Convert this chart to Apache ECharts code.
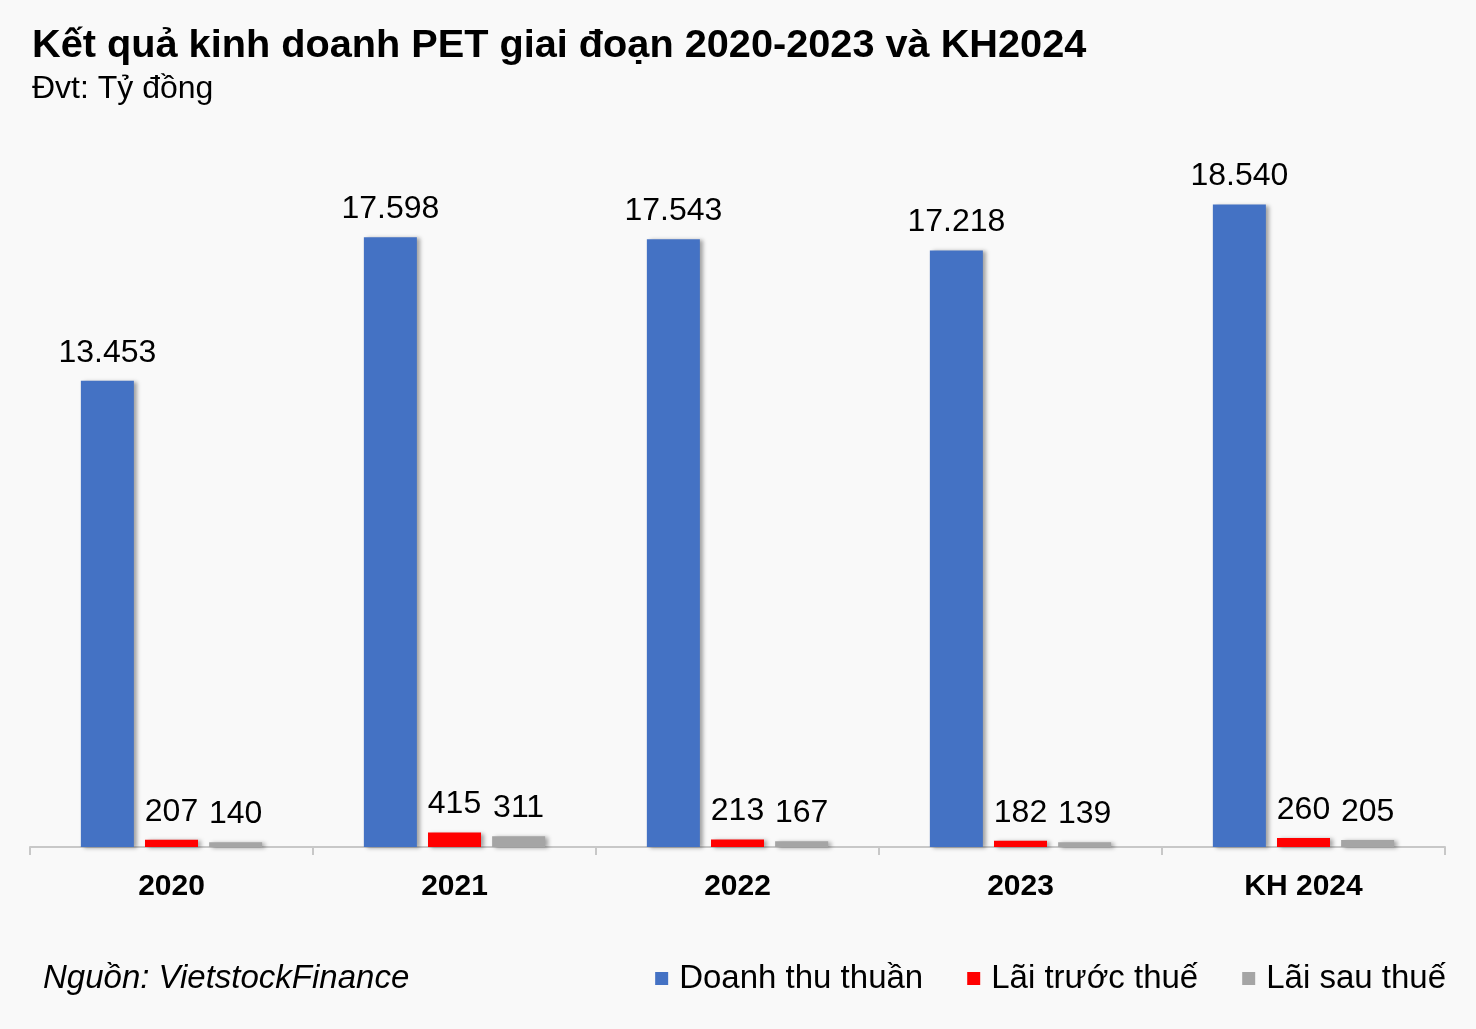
<!DOCTYPE html>
<html>
<head>
<meta charset="utf-8">
<script src="https://cdn.jsdelivr.net/npm/echarts@6/dist/echarts.min.js"></script>
<style>
html,body{margin:0;padding:0;background:#f9f9f9;}
#c{width:1476px;height:1029px;}
</style>
</head>
<body>
<div id="c"></div>
<script>
const categories = ['2020', '2021', '2022', '2023', 'KH 2024'];
const revenue = [13453, 17598, 17543, 17218, 18540];
const preTax = [207, 415, 213, 182, 260];
const afterTax = [140, 311, 167, 139, 205];
const seriesNames = ['Doanh thu thuần', 'Lãi trước thuế', 'Lãi sau thuế'];
const colors = ['#4472c4', '#ff0000', '#a5a5a5'];

const font = '"Liberation Sans", Arial, sans-serif';
const fmt = v => String(v.value).replace(/\B(?=(\d{3})+(?!\d))/g, '.');

const chart = echarts.init(document.getElementById('c'));
const mk = (name, data, color) => ({
  name, type: 'bar', data,
  barWidth: 53, barGap: '21%',
  itemStyle: { color, shadowColor: 'rgba(0,0,0,0.35)', shadowBlur: 4, shadowOffsetX: 3, shadowOffsetY: 1 },
  label: { show: true, position: 'top', distance: 12, formatter: fmt, fontFamily: font, fontSize: 32, color: '#000' }
});
chart.setOption({
  backgroundColor: '#f9f9f9',
  textStyle: { fontFamily: font },
  title: [
    { text: 'Kết quả kinh doanh PET giai đoạn 2020-2023 và KH2024', left: 27, top: 21,
      textStyle: { fontFamily: font, fontSize: 39.7, fontWeight: 'bold', color: '#000' } },
    { text: 'Đvt: Tỷ đồng', left: 27, top: 68,
      textStyle: { fontFamily: font, fontSize: 32, fontWeight: 'normal', color: '#000' } },
    { text: 'Nguồn: VietstockFinance', left: 38, top: 957,
      textStyle: { fontFamily: font, fontSize: 33, fontWeight: 'normal', fontStyle: 'italic', color: '#000' } }
  ],
  legend: {
    right: 25, top: 957, itemWidth: 13, itemHeight: 13, itemGap: 44,
    icon: 'rect', data: seriesNames,
    textStyle: { fontFamily: font, fontSize: 33, color: '#000', padding: [0,0,0,6] }
  },
  grid: { left: 30, right: 31, top: 154, bottom: 182, containLabel: false },
  xAxis: {
    type: 'category', data: categories,
    axisLine: { lineStyle: { color: '#c8c8c8', width: 2 } },
    axisTick: { show: true, length: 8, lineStyle: { color: '#c8c8c8', width: 2 } },
    axisLabel: { fontFamily: font, fontSize: 30, fontWeight: 'bold', color: '#000', margin: 25 }
  },
  yAxis: { type: 'value', min: 0, max: 20000, show: false, splitLine: { show: false } },
  series: [
    mk(seriesNames[0], revenue, colors[0]),
    mk(seriesNames[1], preTax, colors[1]),
    mk(seriesNames[2], afterTax, colors[2])
  ]
});
</script>
</body>
</html>
